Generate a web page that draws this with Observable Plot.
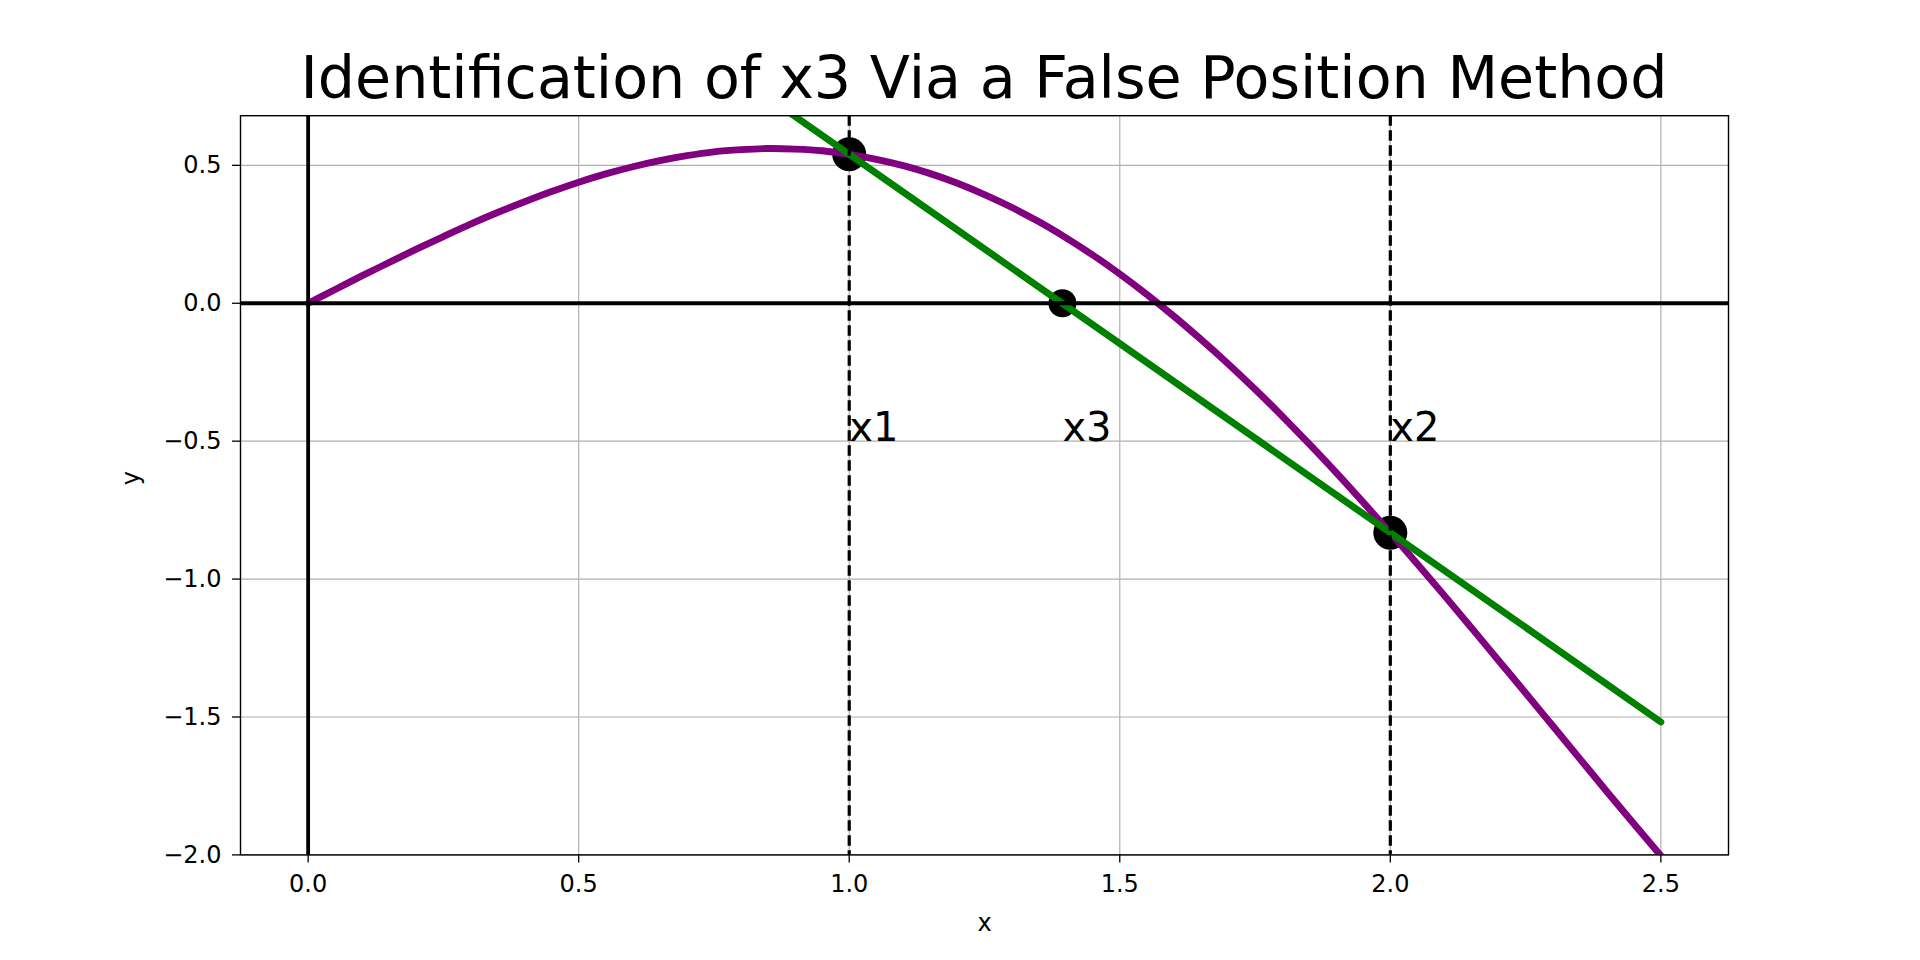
<!DOCTYPE html>
<html>
<head>
<meta charset="utf-8">
<script src="https://cdn.jsdelivr.net/npm/d3@7"></script>
<script src="https://cdn.jsdelivr.net/npm/@observablehq/plot@0.6"></script>
<style>
  html, body { margin: 0; padding: 0; background: #fff; }
  #wrap { position: relative; width: 1920px; height: 960px; font-family: "DejaVu Sans", sans-serif; }
  #title { position: absolute; left: 240px; width: 1488px; top: 49px; height: 58px; line-height: 58px;
           font-size: 58.7px; text-align: center; color: #000; white-space: nowrap; }
  #chart { position: absolute; left: 0; top: 110px; }
</style>
</head>
<body>
<div id="wrap">
  <div id="title">Identification of x3 Via a False Position Method</div>
  <div id="chart"></div>
</div>
<script>
// Curve y = f(x)
const curveX = [0, 0.05, 0.1, 0.15, 0.2, 0.25, 0.3, 0.35, 0.4, 0.45, 0.5, 0.55, 0.6, 0.65, 0.7, 0.75, 0.8, 0.85, 0.9, 0.95,
  1.0, 1.05, 1.1, 1.15, 1.2, 1.25, 1.3, 1.35, 1.4, 1.45, 1.5, 1.55, 1.6, 1.65, 1.7, 1.75, 1.8, 1.85, 1.9, 1.95,
  2.0, 2.05, 2.1, 2.15, 2.2, 2.25, 2.3, 2.35, 2.4, 2.45, 2.5];
const curveY = [0, 0.050, 0.100, 0.148, 0.196, 0.242, 0.287, 0.329, 0.368, 0.405, 0.439, 0.469, 0.495, 0.517, 0.535, 0.549, 0.557, 0.561, 0.559, 0.553,
  0.540, 0.522, 0.499, 0.470, 0.435, 0.394, 0.348, 0.296, 0.238, 0.175, 0.106, 0.032, -0.047, -0.131, -0.219, -0.312, -0.409, -0.510, -0.614, -0.722,
  -0.832, -0.945, -1.060, -1.177, -1.295, -1.413, -1.532, -1.651, -1.770, -1.887, -2.003];

// Secant (false position) line
const secantX = [0, 2.5];
const secantY = [1.912, -1.518];

// Bracket points x1, x2 and the estimate x3
const bracketX = [1.0, 2.0];
const bracketY = [0.540, -0.832];
const estimateX = [1.394];
const estimateY = [0];

// Labels
const labelNames = ["x1", "x3", "x2"];
const labelX = [1.0, 1.394, 2.0];
const labelY = [-0.5, -0.5, -0.5];

// Ticks
const xTicks = [0.0, 0.5, 1.0, 1.5, 2.0, 2.5];
const yTicks = [-2.0, -1.5, -1.0, -0.5, 0.0, 0.5];

const curve = curveX.map((x, i) => ({x, y: curveY[i]}));
const secant = secantX.map((x, i) => ({x, y: secantY[i]}));
const brackets = bracketX.map((x, i) => ({x, y: bracketY[i]}));
const estimate = estimateX.map((x, i) => ({x, y: estimateY[i]}));
const labels = labelNames.map((t, i) => ({t, x: labelX[i], y: labelY[i]}));

const fmt = d3.format(".1f");

const chart = Plot.plot({
  width: 1920,
  height: 850,
  marginLeft: 240,
  marginRight: 192,
  marginTop: 5.2,
  marginBottom: 105.6,
  style: {fontFamily: "DejaVu Sans", fontSize: "24px", color: "#000", background: "#fff"},
  x: {domain: [-0.125, 2.625]},
  y: {domain: [-2.0, 0.68]},
  marks: [
    Plot.gridX(xTicks, {stroke: "#b0b0b0", strokeOpacity: 1, strokeWidth: 1.2}),
    Plot.gridY(yTicks, {stroke: "#b0b0b0", strokeOpacity: 1, strokeWidth: 1.2}),
    Plot.dot(brackets, {x: "x", y: "y", r: 17, fill: "#000", stroke: null}),
    Plot.dot(estimate, {x: "x", y: "y", r: 14, fill: "#000", stroke: null}),
    Plot.line(curve, {x: "x", y: "y", stroke: "purple", strokeWidth: 6.9, curve: "catmull-rom", clip: true}),
    Plot.line(secant, {x: "x", y: "y", stroke: "green", strokeWidth: 6.9, clip: true}),
    Plot.ruleY([0], {stroke: "#000", strokeWidth: 3.8}),
    Plot.ruleX([0], {stroke: "#000", strokeWidth: 3.8}),
    Plot.ruleX(bracketX, {stroke: "#000", strokeWidth: 3.2, strokeDasharray: "10.5,4.5"}),
    Plot.text(labels, {x: "x", y: "y", text: "t", textAnchor: "start", lineAnchor: "bottom", dy: 0, fontSize: 40, fill: "#000"}),
    Plot.frame({stroke: "#000", strokeWidth: 1.4}),
    Plot.axisX(xTicks, {tickSize: 8, tickPadding: 12.5, tickFormat: fmt, strokeWidth: 1.3, label: null, fontSize: 24}),
    Plot.axisY(yTicks, {tickSize: 8, tickPadding: 11, tickFormat: fmt, strokeWidth: 1.3, label: null, fontSize: 24}),
    Plot.text(["x"], {frameAnchor: "bottom", dy: 68, text: d => d, lineAnchor: "middle", fontSize: 24, fill: "#000"}),
    Plot.text(["y"], {frameAnchor: "left", dx: -109, text: d => d, rotate: -90, lineAnchor: "middle", fontSize: 24, fill: "#000"})
  ]
});
document.getElementById("chart").appendChild(chart);
</script>
</body>
</html>
